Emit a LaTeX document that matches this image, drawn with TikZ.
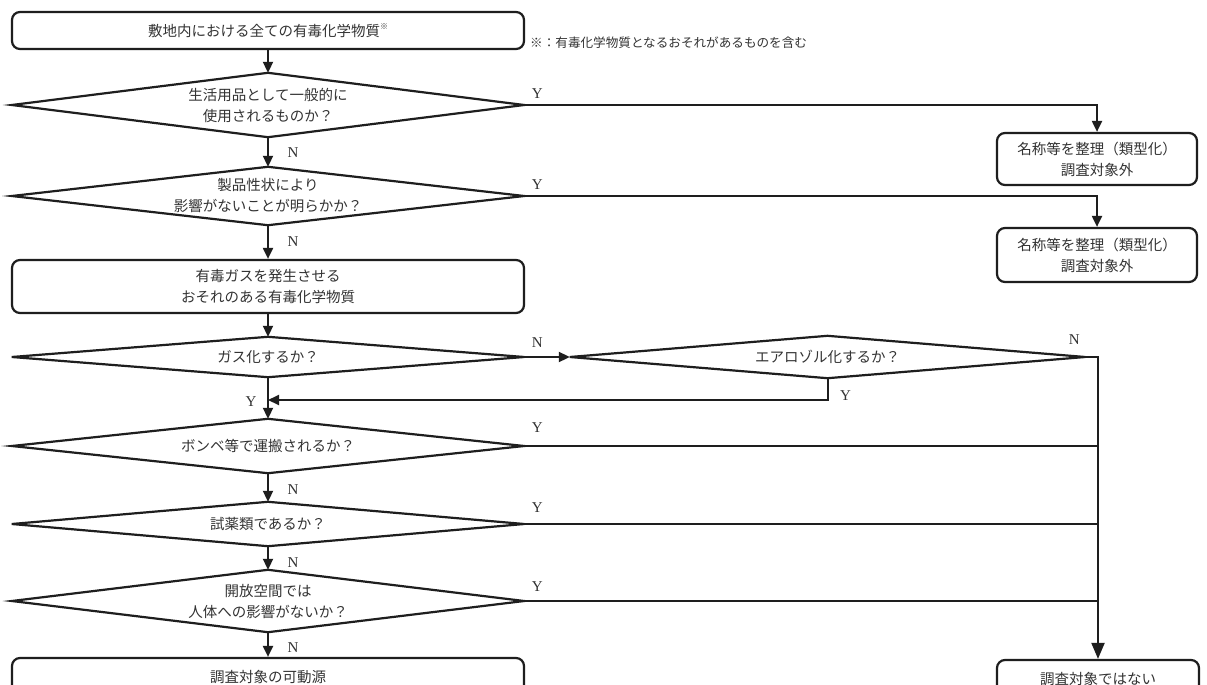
\documentclass[tikz,border=0pt]{standalone}
\usepackage{fontspec}
\usetikzlibrary{arrows.meta,calc}
\newfontfamily\jp{Noto Sans CJK JP}
\newfontfamily\lat{Liberation Serif}
\definecolor{ink}{HTML}{1E1E1E}
\definecolor{txt}{HTML}{333333}
\tikzset{
  box/.style={draw=ink, line width=2.2pt, rounded corners=8pt, inner sep=0pt, align=center,
    font=\jp\fontsize{14.5}{21}\selectfont, text=txt},
  dia/.style={rectangle, inner sep=0pt, align=center, minimum width=512pt,
    font=\jp\fontsize{14.5}{21}\selectfont, text=txt},
  conn/.style={draw=ink, line width=2pt},
  arr/.style={conn, -{Triangle[length=11pt,width=10pt]}},
  bigarr/.style={conn, -{Triangle[length=16pt,width=13pt]}},
  yn/.style={font=\lat\fontsize{15}{16}\selectfont, text=txt, inner sep=0pt},
}
\newcommand{\diashape}[1]{\draw[draw=ink, line width=2.2pt, line join=miter] (#1.west) -- (#1.north) -- (#1.east) -- (#1.south) -- cycle;}
\begin{document}
\begin{tikzpicture}[x=1pt,y=-1pt]
\useasboundingbox (0,0) rectangle (1207,685);
\clip (0,0) rectangle (1207,685);
\fill[white] (0,0) rectangle (1207,685);
% boxes
\node[box, minimum width=512pt, minimum height=37pt] (b1) at (268,30.5)
  {敷地内における全ての有毒化学物質\raisebox{7pt}{\fontsize{8}{8}\selectfont ※}};
\node[anchor=west, inner sep=0pt, font=\jp\fontsize{12.6}{14}\selectfont, text=txt] (note) at (530,43)
  {※：有毒化学物質となるおそれがあるものを含む};
\node[dia, minimum height=64pt] (d1) at (268,105) {生活用品として一般的に\\使用されるものか？};
\node[dia, minimum height=58pt] (d2) at (268,196) {製品性状により\\影響がないことが明らかか？};
\node[box, minimum width=200pt, minimum height=52pt] (bA) at (1097,159) {名称等を整理（類型化）\\調査対象外};
\node[box, minimum width=200pt, minimum height=54pt] (bB) at (1097,255) {名称等を整理（類型化）\\調査対象外};
\node[box, minimum width=512pt, minimum height=53pt] (b2) at (268,286.5) {有毒ガスを発生させる\\おそれのある有毒化学物質};
\node[dia, minimum height=40pt] (d3) at (268,357) {ガス化するか？};
\node[dia, minimum width=515pt, minimum height=42pt] (d3b) at (827.5,357) {エアロゾル化するか？};
\node[dia, minimum height=54pt] (d4) at (268,446) {ボンベ等で運搬されるか？};
\node[dia, minimum height=44pt] (d5) at (268,524) {試薬類であるか？};
\node[dia, minimum height=62pt] (d6) at (268,601) {開放空間では\\人体への影響がないか？};
\node[box, minimum width=512pt, minimum height=40pt] (b3) at (268,678) {\raisebox{4pt}{調査対象の可動源}};
\node[box, minimum width=202pt, minimum height=40pt] (bC) at (1098,680) {\raisebox{4pt}{調査対象ではない}};
\diashape{d1}\diashape{d2}\diashape{d3}\diashape{d3b}\diashape{d4}\diashape{d5}\diashape{d6}
% connectors
\draw[arr] (b1.south) -- (d1.north);
\draw[arr] (d1.east) -| (bA.north);
\node[yn] (y1) at ($(d1.east)+(13,-11)$) {Y};
\draw[arr] (d1.south) -- (d2.north);
\node[yn] (n1) at ($(d1.south)+(25,15)$) {N};
\draw[arr] (d2.east) -| (bB.north);
\node[yn] (y2) at ($(d2.east)+(13,-11)$) {Y};
\draw[arr] (d2.south) -- (b2.north);
\node[yn] (n2) at ($(d2.south)+(25,16)$) {N};
\draw[arr] (b2.south) -- (d3.north);
\draw[arr] (d3.east) -- (d3b.west);
\node[yn] (n3) at ($(d3.east)+(13,-14)$) {N};
\coordinate (j1) at (268,400);
\draw[arr] (d3b.south) |- (j1);
\node[yn] (y3b) at ($(d3b.south)+(18,17)$) {Y};
\draw[arr] (d3.south) -- (d4.north);
\node[yn] (y3) at ($(j1)+(-17,2)$) {Y};
\draw[bigarr] (d3b.east) -| (bC.north);
\node[yn] (n3b) at ($(d3b.east)+(-11,-17)$) {N};
\draw[conn] (d4.east) -- (d4.east -| bC.north);
\node[yn] (y4) at ($(d4.east)+(13,-18)$) {Y};
\draw[arr] (d4.south) -- (d5.north);
\node[yn] (n4) at ($(d4.south)+(25,16)$) {N};
\draw[conn] (d5.east) -- (d5.east -| bC.north);
\node[yn] (y5) at ($(d5.east)+(13,-16)$) {Y};
\draw[arr] (d5.south) -- (d6.north);
\node[yn] (n5) at ($(d5.south)+(25,16)$) {N};
\draw[conn] (d6.east) -- (d6.east -| bC.north);
\node[yn] (y6) at ($(d6.east)+(13,-14)$) {Y};
\draw[arr] (d6.south) -- (b3.north);
\node[yn] (n6) at ($(d6.south)+(25,15)$) {N};
\end{tikzpicture}
\end{document}
